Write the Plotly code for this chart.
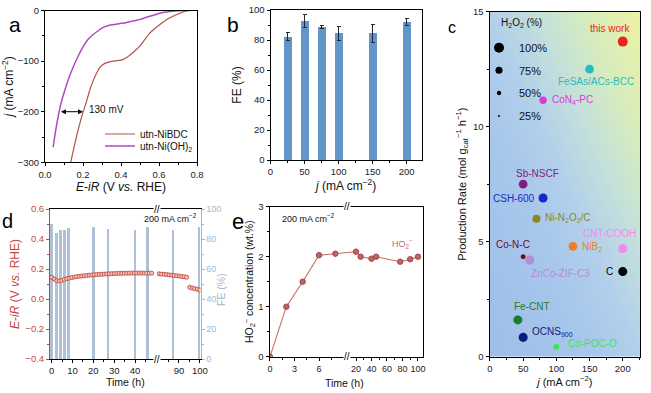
import plotly.graph_objects as go
import numpy as np

W, H = 651, 393
FONT = "Liberation Sans, Arial, sans-serif"


def px(x):
    return x / W


def py(y):
    return 1 - y / H


# ---------------- data ----------------
# (a) LSV curves
a_E_nibdc = [0.135, 0.15, 0.165, 0.18, 0.2, 0.22, 0.235, 0.25, 0.27, 0.29, 0.313, 0.335,
             0.357, 0.38, 0.409, 0.43, 0.444, 0.46, 0.478, 0.5, 0.52, 0.548, 0.58, 0.617,
             0.65, 0.687, 0.72, 0.739, 0.756, 0.77]
a_j_nibdc = [-300, -275, -250, -228, -201, -178, -158, -142, -125, -112, -105, -102,
             -100, -99, -97, -93, -89, -84, -78, -70, -60, -46, -35, -24,
             -16, -9, -4, -1.5, 0, 0]
a_E_nioh = [0.043, 0.055, 0.07, 0.085, 0.104, 0.125, 0.148, 0.175, 0.2, 0.225, 0.252, 0.28,
            0.304, 0.33, 0.357, 0.39, 0.426, 0.46, 0.496, 0.53, 0.565, 0.6, 0.635, 0.67,
            0.704, 0.74, 0.77]
a_j_nioh = [-270, -240, -208, -182, -158, -134, -112, -90, -72, -58, -48, -40,
            -34, -30, -28, -26, -24, -21, -18, -14, -10, -6, -3, -1.5,
            -0.5, 0, 0]

# (b) FE vs current density
b_j = [25, 50, 75, 100, 150, 200]
b_fe = [82.2, 92.8, 88.8, 84.5, 84.5, 92.0]
b_err = [2.8, 4.2, 0.8, 4.5, 6.0, 2.4]

# (c) comparison
c_names = ["this work", "FeSAs/ACs-BCC", "CoN<sub>4</sub>-PC", "Sb-NSCF", "CSH-600",
           "Ni-N<sub>2</sub>O<sub>2</sub>/C", "CNT-COOH", "NiB<sub>2</sub>", "Co-N-C",
           "ZnCo-ZIF-C3", "C", "Fe-CNT", "OCNS<sub>900</sub>", "Co-POC-O"]
c_j = [200, 150, 80, 50, 80, 70, 200, 125, 50, 60, 200, 42, 50, 100]
c_rate = [13.7, 12.5, 11.15, 7.5, 6.9, 6.0, 4.7, 4.8, 4.35, 4.2, 3.7, 1.6, 0.84, 0.43]
c_h2o2 = [100, 89, 77, 89, 92, 83, 92, 89, 56, 92, 92, 92, 92, 63]
c_legend_pct = [100, 75, 50, 25]

# (d) stability
d_t_left = [0, 1.2, 2.4, 3.6, 4.8, 6.0, 7.2, 8.4, 9.6, 10.8, 12.0, 13.2, 14.4, 15.6, 16.8,
            18.0, 19.2, 20.4, 21.6, 22.8, 24.0, 25.2, 26.4, 27.6, 28.8, 30.0, 31.2, 32.4,
            33.6, 34.8, 36.0, 37.2, 38.4, 39.6, 40.8, 42.0, 43.2, 44.4, 45.6, 46.8, 48.0]
d_E_left = [0.145, 0.133, 0.122, 0.12, 0.124, 0.13, 0.135, 0.139, 0.143, 0.146, 0.149, 0.151,
            0.153, 0.155, 0.157, 0.159, 0.16, 0.162, 0.163, 0.164, 0.165, 0.166, 0.167, 0.168,
            0.169, 0.17, 0.17, 0.171, 0.171, 0.172, 0.172, 0.172, 0.173, 0.173, 0.173, 0.173,
            0.173, 0.173, 0.172, 0.172, 0.172]
d_t_right = [80.5, 81.7, 82.9, 84.1, 85.3, 86.5, 87.7, 88.9, 90.1, 91.3, 92.5, 93.7,
             95.2, 96.4, 97.6, 98.8, 100]
d_E_right = [0.168, 0.166, 0.165, 0.163, 0.161, 0.159, 0.157, 0.155, 0.153, 0.15, 0.148, 0.145,
             0.078, 0.073, 0.069, 0.065, 0.06]
d_fe_t = [0, 2.4, 4.3, 6.1, 8, 20, 27, 40, 46, 87, 99.5]
d_fe = [90, 84, 86, 86, 87.5, 88, 86.7, 86, 88, 86, 88]

# (e) HO2- accumulation
e_t = [0, 2, 4, 6, 8, 20, 26, 40, 46, 77, 90, 100]
e_c = [0, 1.0, 1.5, 2.03, 2.06, 2.1, 2.0, 1.96, 2.0, 1.9, 1.95, 2.0]

# ---------------- styles ----------------
c_colors = ["#e8261d", "#27bcc2", "#d93ad6", "#7d1f80", "#1529cc", "#8a891f", "#f08cf0",
            "#f07d2a", "#6e0f1e", "#b98ad8", "#000000", "#1b7c2b", "#0c1b78", "#3ee64b"]
c_lbl = [  # (xanchor, xshift, yshift)
    ("center", -13, 13), ("center", 6, -12), ("left", 7, 0), ("center", 14, 11),
    ("right", -6, 0), ("left", 7, 1), ("center", -13, 15), ("left", 7, -1),
    ("center", -10, 12), ("center", 31, -13), ("right", -8, 0), ("center", 14, 13),
    ("left", 7, 5), ("left", 10, 3)]


def msize(p):
    return 10 * (p / 100) ** 1.2


RED = "#c4473d"
FEC = "#9fb8cf"
TICKF = dict(size=9.5, color="#222", family=FONT)
TITLEF = dict(size=10.5, color="#111", family=FONT)

# domains (px) & ranges for broken axes
D4 = (50, 156.7, -0.8, 50.4)
D5 = (156.7, 200.5, 79.4, 100.3)
D6 = (269.5, 345, -0.06, 9.18)
D7 = (345, 423, 5.8, 106.5)


def to_px(t, d):
    return d[0] + (t - d[2]) * (d[1] - d[0]) / (d[3] - d[2])


def from_px(p, d):
    return d[2] + (p - d[0]) * (d[3] - d[2]) / (d[1] - d[0])


def ax(**kw):
    d = dict(showline=True, linecolor="black", linewidth=1, ticks="outside", ticklen=3,
             tickwidth=1, tickcolor="black", showgrid=False, zeroline=False,
             tickfont=TICKF, automargin=False)
    d.update(kw)
    return d


def minor(dt=None, vals=None, color="black"):
    m = dict(ticks="outside", ticklen=2, tickwidth=1, tickcolor=color, showgrid=False)
    if dt is not None:
        m["dtick"] = dt
    if vals is not None:
        m["tickvals"] = vals
    return m


fig = go.Figure()

# ---- (a)
fig.add_trace(go.Scatter(x=a_E_nibdc, y=a_j_nibdc, mode="lines", line=dict(color="#b5504a", width=1.2, shape="spline", smoothing=0.6),
                         name="utn-NiBDC", xaxis="x", yaxis="y", legend="legend"))
fig.add_trace(go.Scatter(x=a_E_nioh, y=a_j_nioh, mode="lines", line=dict(color="#b248c4", width=1.5, shape="spline", smoothing=0.6),
                         name="utn-Ni(OH)<sub>2</sub>", xaxis="x", yaxis="y", legend="legend2"))

# ---- (b)
fig.add_trace(go.Bar(x=b_j, y=b_fe, width=11, marker=dict(color="#6296c9", line=dict(width=0)),
                     error_y=dict(type="data", array=b_err, color="#1c2a3a", thickness=1, width=2),
                     xaxis="x2", yaxis="y2", showlegend=False))

# ---- (c) gradient background
gx = np.linspace(-5, 232, 30)
gy = np.linspace(-0.5, 15.5, 30)
gz = 0.5 * (gx / 226)[None, :] + 0.5 * (gy / 15)[:, None]
fig.add_trace(go.Heatmap(x=gx, y=gy, z=gz, zmin=0, zmax=1, zsmooth="best", showscale=False,
                         hoverinfo="skip", xaxis="x3", yaxis="y3",
                         colorscale=[[0, "#9ebee9"], [0.35, "#a8c7ec"], [0.5, "#b3d0ea"],
                                     [0.65, "#c3e0dc"], [0.8, "#d6ecbf"], [1, "#eef2a2"]]))
fig.add_trace(go.Scatter(x=c_j, y=c_rate, mode="markers", xaxis="x3", yaxis="y3", showlegend=False,
                         marker=dict(size=[msize(p) for p in c_h2o2], color=c_colors, line=dict(width=0), opacity=1)))
legend_y = [47.7, 70.3, 93, 116]
for i, p in enumerate(c_legend_pct):
    fig.add_trace(go.Scatter(x=[None], y=[None], mode="markers", xaxis="x3", yaxis="y3",
                             marker=dict(size=msize(p), color="black"), name=f"{p}%",
                             legend=f"legend{i + 3}"))

# ---- (d)
lt = [t for t in d_fe_t if t < 50]
lv = [v for t, v in zip(d_fe_t, d_fe) if t < 50]
rt = [t for t in d_fe_t if t >= 50]
rv = [v for t, v in zip(d_fe_t, d_fe) if t >= 50]
fig.add_trace(go.Bar(x=lt, y=lv, width=1.3, marker=dict(color=FEC, line=dict(width=0)), opacity=0.85,
                     xaxis="x4", yaxis="y4", showlegend=False))
fig.add_trace(go.Bar(x=rt, y=rv, width=1.3, marker=dict(color=FEC, line=dict(width=0)), opacity=0.85,
                     xaxis="x5", yaxis="y5", showlegend=False))
mk = dict(symbol="circle", size=4, color="#f4c9bf", line=dict(color=RED, width=0.9))
fig.add_trace(go.Scatter(x=d_t_left, y=d_E_left, mode="markers", marker=mk, xaxis="x4", yaxis="y6", showlegend=False))
fig.add_trace(go.Scatter(x=d_t_right, y=d_E_right, mode="markers", marker=mk, xaxis="x5", yaxis="y7", showlegend=False))

# ---- (e) broken axis with connecting line
el_t = [t for t in e_t if t <= 10]
el_c = [c for t, c in zip(e_t, e_c) if t <= 10]
er_t = [t for t in e_t if t > 10]
er_c = [c for t, c in zip(e_t, e_c) if t > 10]
left_x = el_t + [from_px(to_px(er_t[0], D7), D6)]
left_y = el_c + [er_c[0]]
right_x = [from_px(to_px(el_t[-1], D6), D7)] + er_t
right_y = [el_c[-1]] + er_c
emk = dict(size=5.5, color="#c46262", line=dict(color="#8e3b3b", width=0.8))
eln = dict(color="#c86b6b", width=1.1)
fig.add_trace(go.Scatter(x=left_x, y=left_y, mode="lines+markers", marker=emk, line=eln,
                         xaxis="x6", yaxis="y8", showlegend=False))
fig.add_trace(go.Scatter(x=right_x, y=right_y, mode="lines+markers", marker=emk, line=eln,
                         xaxis="x7", yaxis="y9", showlegend=False))

# ---------------- layout ----------------
ann = []
# panel letters
for t, x, y, s in [("a", 15, 25, 21), ("b", 233, 25, 21), ("c", 452, 27, 16), ("d", 7, 221, 20), ("e", 238, 221, 22)]:
    ann.append(dict(text=t, x=px(x), y=py(y), xref="paper", yref="paper", showarrow=False,
                    xanchor="center", yanchor="middle", font=dict(size=s, color="black", family=FONT)))
# (a) arrow + label
ann.append(dict(x=0.2, y=-200, ax=0.076, ay=-200, xref="x", yref="y", axref="x", ayref="y", text="",
                showarrow=True, arrowhead=2, arrowside="end+start", arrowsize=1, arrowwidth=1, arrowcolor="black"))
ann.append(dict(x=0.222, y=-196, xref="x", yref="y", text="130 mV", showarrow=False, xanchor="left",
                font=dict(size=10, color="#111", family=FONT)))
# (c) point labels
for n, xj, yr, col, (xa, xs, ys) in zip(c_names, c_j, c_rate, c_colors, c_lbl):
    ann.append(dict(x=xj, y=yr, xref="x3", yref="y3", text=n, showarrow=False, xanchor=xa,
                    yanchor="middle", xshift=xs, yshift=ys, font=dict(size=10, color=col, family=FONT)))
ann.append(dict(x=px(499), y=py(23), xref="paper", yref="paper", xanchor="left", yanchor="middle",
                text="H<sub>2</sub>O<sub>2</sub> (%)", showarrow=False, font=dict(size=10, color="#111", family=FONT)))
# (d)
ann.append(dict(x=px(199), y=py(218), xref="paper", yref="paper", xanchor="right", yanchor="middle",
                text="200 mA cm<sup>−2</sup>", showarrow=False, font=dict(size=9, color="#111", family=FONT)))
ann.append(dict(x=px(125), y=py(382), xref="paper", yref="paper", xanchor="center", yanchor="middle",
                text="Time (h)", showarrow=False, font=TITLEF))
ann.append(dict(x=px(221), y=py(290), xref="paper", yref="paper", xanchor="center", yanchor="middle",
                text="FE (%)", textangle=-90, showarrow=False, font=dict(size=10.5, color=FEC, family=FONT)))
# (e)
ann.append(dict(x=px(280), y=py(218), xref="paper", yref="paper", xanchor="left", yanchor="middle",
                text="200 mA cm<sup>−2</sup>", showarrow=False, font=dict(size=9, color="#111", family=FONT)))
ann.append(dict(x=px(402), y=py(243), xref="paper", yref="paper", xanchor="center", yanchor="middle",
                text="HO<sub>2</sub><sup>−</sup>", showarrow=False, font=dict(size=9, color="#d06262", family=FONT)))
ann.append(dict(x=px(344), y=py(383), xref="paper", yref="paper", xanchor="center", yanchor="middle",
                text="Time (h)", showarrow=False, font=TITLEF))
# break marks
for bx, by in [(156.7, 209), (156.7, 359), (347, 206.7), (347, 356.7)]:
    ann.append(dict(x=px(bx), y=py(by), xref="paper", yref="paper", xanchor="center", yanchor="middle",
                    text="//", showarrow=False, bgcolor="white", borderpad=0,
                    font=dict(size=10, color="black", family=FONT)))

ya = [py(162.3), py(10.5)]
yb = [py(160), py(10)]
yc = [py(356.7), py(11.7)]
yd = [py(359), py(209)]
ye = [py(356.7), py(206.7)]

lg = dict(bgcolor="rgba(0,0,0,0)", font=dict(size=10, color="#111", family=FONT), itemwidth=30,
          xanchor="left", yanchor="middle", borderwidth=0)
legends = {
    "legend": dict(lg, x=px(100), y=py(134)),
    "legend2": dict(lg, x=px(100), y=py(146)),
}
for i, yy in enumerate(legend_y):
    legends[f"legend{i + 3}"] = dict(lg, x=px(479), y=py(yy), itemsizing="trace",
                                     font=dict(size=11, color="#111", family=FONT))

SMALLT = dict(size=9, color="#222", family=FONT)

fig.update_layout(
    width=W, height=H, margin=dict(l=0, r=0, t=0, b=0), paper_bgcolor="white", plot_bgcolor="white",
    font=dict(family=FONT, color="#111"), showlegend=True, bargap=0, annotations=ann,
    xaxis=ax(domain=[px(45), px(197)], range=[0, 0.8], dtick=0.2, tickformat=".1f", mirror=True, anchor="y",
             minor=minor(0.1), title=dict(text="<i>E</i>-<i>iR</i> (V <i>vs.</i> RHE)", font=dict(size=12, family=FONT), standoff=3)),
    yaxis=ax(domain=ya, range=[-300, 0], dtick=100, mirror=True, anchor="x", minor=minor(50),
             title=dict(text="<i>j</i> (mA cm<sup>−2</sup>)", font=dict(size=12, family=FONT), standoff=2)),
    xaxis2=ax(domain=[px(270.5), px(421.7)], range=[0, 222], tickvals=[0, 50, 100, 150, 200], mirror=True, anchor="y2",
              minor=minor(25), title=dict(text="<i>j</i> (mA cm<sup>−2</sup>)", font=dict(size=12, family=FONT), standoff=3)),
    yaxis2=ax(domain=yb, range=[0, 100], dtick=20, mirror=True, anchor="x2", minor=minor(10),
              title=dict(text="FE (%)", font=dict(size=12, family=FONT), standoff=4)),
    xaxis3=ax(domain=[px(489.5), px(640)], range=[-0.7, 226], dtick=50, mirror=True, anchor="y3", minor=minor(25),
              title=dict(text="<i>j</i> (mA cm<sup>−2</sup>)", font=dict(size=11, family=FONT), standoff=3)),
    yaxis3=ax(domain=yc, range=[0, 15], dtick=5, mirror=True, anchor="x3", minor=minor(2.5),
              title=dict(text="Production Rate (mol g<sub>cat</sub><sup>−1</sup> h<sup>−1</sup>)", font=dict(size=11, family=FONT), standoff=4)),
    # (d)
    xaxis4=ax(domain=[px(D4[0]), px(D4[1])], range=[D4[2], D4[3]], tickvals=[0, 10, 20, 30, 40], mirror=True,
              anchor="y4", minor=minor(5)),
    xaxis5=ax(domain=[px(D5[0]), px(D5[1])], range=[D5[2], D5[3]], tickvals=[90, 100], mirror=True,
              anchor="y5", minor=minor(vals=[85, 95])),
    yaxis4=dict(domain=yd, range=[0, 100], anchor="x4", visible=False),
    yaxis5=ax(domain=yd, range=[0, 100], anchor="x5", side="right", dtick=20, linecolor=FEC, tickcolor=FEC,
              tickfont=dict(size=9, color=FEC, family=FONT), minor=minor(10, color=FEC)),
    yaxis6=ax(domain=yd, range=[-0.4, 0.6], anchor="x4", overlaying="y4", side="left", dtick=0.2, tickformat=".1f",
              linecolor=RED, tickcolor=RED, tickfont=dict(size=9.5, color=RED, family=FONT), minor=minor(0.1, color=RED),
              title=dict(text="<i>E</i>-<i>iR</i> (V <i>vs.</i> RHE)", font=dict(size=12, color=RED, family=FONT), standoff=3)),
    yaxis7=dict(domain=yd, range=[-0.4, 0.6], anchor="x5", overlaying="y5", visible=False),
    # (e)
    xaxis6=ax(domain=[px(D6[0]), px(D6[1])], range=[D6[2], D6[3]], tickvals=[0, 3, 6], mirror=True, anchor="y8",
              minor=minor(vals=[1.5, 4.5, 7.5]), tickfont=SMALLT),
    xaxis7=ax(domain=[px(D7[0]), px(D7[1])], range=[D7[2], D7[3]], tickvals=[20, 40, 60, 80, 100], mirror=True,
              anchor="y9", minor=minor(vals=[10, 30, 50, 70, 90]), tickfont=SMALLT),
    yaxis8=ax(domain=ye, range=[0, 3], dtick=1, anchor="x6", minor=minor(0.5),
              title=dict(text="HO<sub>2</sub><sup>−</sup> concentration (wt.%)", font=dict(size=10.5, family=FONT), standoff=2)),
    yaxis9=ax(domain=ye, range=[0, 3], anchor="x7", side="right", showticklabels=False, ticks=""),
    **legends,
)

fig.write_html("out.html", config={"displayModeBar": False},
               post_script="document.body.style.margin='0px';")
